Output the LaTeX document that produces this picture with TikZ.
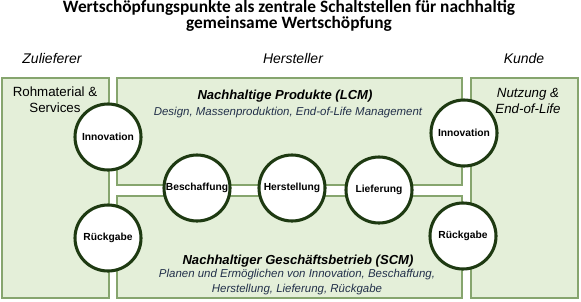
\documentclass[tikz,border=0pt]{standalone}
\usepackage{fontspec}
\setmainfont{Liberation Sans}
\newfontfamily\titelfont{Carlito}
\usetikzlibrary{positioning}
\definecolor{ZoneFill}{HTML}{E4EFD9}
\definecolor{ZoneLine}{HTML}{86A56E}
\definecolor{RingGreen}{HTML}{1E3A12}
\definecolor{SubText}{HTML}{22304A}
\begin{document}
\begin{tikzpicture}[
    x=0.75pt, y=-0.75pt, font=\fontsize{10}{12}\selectfont,
    zone/.style={draw=ZoneLine, fill=ZoneFill, line width=1pt},
    ring/.style={circle, draw=RingGreen, fill=white, line width=2.3pt, minimum size=49.5pt,
      inner sep=0pt, font=\fontsize{7.7}{9}\selectfont\bfseries},
    head/.style={anchor=base, font=\fontsize{10.5}{12}\selectfont\itshape},
    lab/.style={anchor=base, align=center, font=\fontsize{10}{12}\selectfont},
    titel/.style={anchor=base, align=center, font=\titelfont\bfseries\fontsize{13}{15.6}\selectfont},
    haupt/.style={anchor=base, font=\fontsize{9.8}{12}\selectfont\bfseries\itshape},
    sub/.style={anchor=base, align=center, text=SubText, font=\fontsize{8.6}{11.25}\selectfont\itshape},
  ]
    \useasboundingbox (0,0) rectangle (581,301);
    % --- Titel ---
    \node[titel] (titel) at (289,28) {Wertschöpfungspunkte als zentrale Schaltstellen für nachhaltig\\[-4pt]gemeinsame Wertschöpfung};
    % --- Spaltenköpfe ---
    \node[head] (zul) at (52,63) {Zulieferer};
    \node[head] (her) at (293,63) {Hersteller};
    \node[head] (kun) at (524,63) {Kunde};
    % --- Bereiche ---
    \draw[zone] (2,78) rectangle (109,298);
    \draw[zone] (117,78) rectangle (462,185);
    \draw[zone] (117,196) rectangle (462,298);
    \draw[zone] (471,78) rectangle (578,298);
    % --- Texte in den Bereichen ---
    \node[lab] (roh) at (55,112) {Rohmaterial \&\\Services};
    \node[lab, font=\fontsize{10}{12}\selectfont\itshape] (nut) at (528,113) {Nutzung \&\\End-of-Life};
    \node[haupt] (lcm) at (285,99) {Nachhaltige Produkte (LCM)};
    \node[sub] (lcmsub) at (288,115) {Design, Massenproduktion, End-of-Life Management};
    \node[haupt] (scm) at (298,264) {Nachhaltiger Geschäftsbetrieb (SCM)};
    \node[sub] (scmsub) at (297,292) {Planen und Ermöglichen von Innovation, Beschaffung,\\Herstellung, Lieferung, Rückgabe};
    % --- Wertschöpfungspunkte ---
    \node[ring] (innoL) at (108,137) {Innovation};
    \node[ring] (innoR) at (464,133) {Innovation};
    \node[ring] (rueckL) at (108,238) {Rückgabe};
    \node[ring] (rueckR) at (463,236) {Rückgabe};
    \foreach \x/\y/\name/\text in {197/188/besch/Beschaffung, 292/188/herst/Herstellung, 379/190/liefer/Lieferung}{
      \node[ring] (\name) at (\x,\y) {\text};
    }
\end{tikzpicture}
\end{document}
